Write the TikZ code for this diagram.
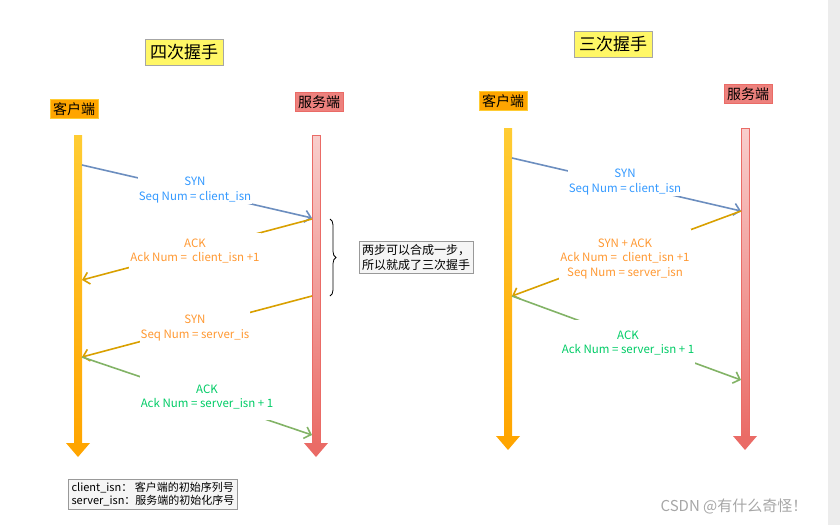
\documentclass[tikz,border=0pt]{standalone}
\usepackage{fontspec}
\setmainfont{Noto Sans CJK SC}
\usetikzlibrary{decorations.pathreplacing,arrows.meta}
\definecolor{cblue}{HTML}{3399FF}\definecolor{lblue}{HTML}{6C8EBF}
\definecolor{corange}{HTML}{FF9933}\definecolor{lorange}{HTML}{D9A000}
\definecolor{cgreen}{HTML}{00CC66}\definecolor{lgreen}{HTML}{82B366}
\definecolor{amtop}{HTML}{FFCC33}\definecolor{ambot}{HTML}{FFA500}
\definecolor{rdtop}{HTML}{F8CECC}\definecolor{rdbot}{HTML}{EA6B66}
\tikzset{
 msg/.style={line width=1.6pt,-{Straight Barb[length=6pt]}},
 lab/.style={fill=white,align=center,font=\fontsize{11.5}{14.5}\selectfont,inner sep=1pt},
 hdr/.style={draw=gray!70,font=\fontsize{14}{16}\selectfont,inner sep=3pt},
}
\newcommand{\clientline}[3]{% x, ytop, ybot
 \shade[top color=amtop,bottom color=ambot] (#1-4,-#2) rectangle (#1+4,-#3+12);
 \fill[ambot] (#1-12,-#3+14) -- (#1+12,-#3+14) -- (#1,-#3) -- cycle;}
\newcommand{\serverline}[3]{%
 \shade[top color=rdtop,bottom color=rdbot,draw=rdbot,line width=0.4pt] (#1-4,-#2) rectangle (#1+4,-#3+12);
 \fill[rdbot] (#1-12,-#3+14) -- (#1+12,-#3+14) -- (#1,-#3) -- cycle;}
\begin{document}
\begin{tikzpicture}[x=1pt,y=1pt]
\useasboundingbox (0,0) rectangle (840,-525);
\fill[gray!15] (828,0) rectangle (840,-525);
\node[hdr,fill=yellow!60,font=\fontsize{17}{19}\selectfont,inner sep=5pt] (t4) at (184,-52) {四次握手};
\node[hdr,fill=yellow!60,font=\fontsize{17}{19}\selectfont,inner sep=5pt] (t3) at (613,-44) {三次握手};
\node[hdr,fill=ambot,draw=amtop] (c1) at (74,-109) {客户端};
\node[hdr,fill=rdbot!85,draw=rdbot] (s1) at (319,-102) {服务端};
\node[hdr,fill=ambot,draw=amtop] (c2) at (503,-101) {客户端};
\node[hdr,fill=rdbot!85,draw=rdbot] (s2) at (748,-94) {服务端};
\clientline{78}{135}{457}\serverline{316}{135}{457}
\clientline{508}{128}{450}\serverline{745}{128}{450}
% left
\coordinate (a1) at (82,-165);\coordinate (b1) at (312,-218);
\coordinate (b2) at (312,-219);\coordinate (a2) at (82,-280);
\coordinate (b3) at (312,-296);\coordinate (a3) at (82,-357);
\coordinate (a4) at (82,-357);\coordinate (b4) at (312,-435);
\draw[msg,lblue] (a1) -- (b1);
\draw[msg,lorange] (b2) -- (a2);
\draw[msg,lorange] (b3) -- (a3);
\draw[msg,lgreen] (a4) -- (b4);
\node[lab,text=cblue] (m1) at (195,-190) {SYN\\Seq Num = client\_isn};
\node[lab,text=corange,minimum height=36pt] (m2) at (195,-251) {ACK\\Ack Num = \ client\_isn +1};
\node[lab,text=corange,minimum height=36pt] (m3) at (195,-328) {SYN\\Seq Num = server\_is};
\node[lab,text=cgreen,minimum height=46pt] (m4) at (207,-397) {ACK\\Ack Num = server\_isn + 1};
\draw[decorate,decoration={brace,amplitude=6pt},thick] (330,-219) -- (330,-296);
\node[draw=gray!80,fill=gray!8,align=left,font=\fontsize{12}{15}\selectfont,inner sep=3pt] (nt) at (416,-257) {两步可以合成一步，\\所以就成了三次握手};
% right
\coordinate (c5) at (512,-158);\coordinate (d5) at (741,-211);
\coordinate (d6) at (741,-211);\coordinate (c6) at (512,-296);
\coordinate (c7) at (512,-296);\coordinate (d7) at (741,-380);
\draw[msg,lblue] (c5) -- (d5);
\draw[msg,lorange] (d6) -- (c6);
\draw[msg,lgreen] (c7) -- (d7);
\node[lab,text=cblue] (m5) at (625,-182) {SYN\\Seq Num = client\_isn};
\node[lab,text=corange,minimum height=60pt] (m6) at (625,-259) {SYN + ACK\\Ack Num = \ client\_isn +1\\Seq Num = server\_isn};
\node[lab,text=cgreen,minimum height=46pt] (m7) at (628,-343) {ACK\\Ack Num = server\_isn + 1};
\node[draw=gray!80,fill=gray!8,align=left,font=\fontsize{11}{13}\selectfont,inner sep=3pt] (leg) at (153,-494) {client\_isn： 客户端的初始序列号\\server\_isn：服务端的初始化序号};
\node[text=gray!70,font=\fontsize{15}{17}\selectfont] (wm) at (734,-506) {CSDN @有什么奇怪！};
\end{tikzpicture}
\end{document}
